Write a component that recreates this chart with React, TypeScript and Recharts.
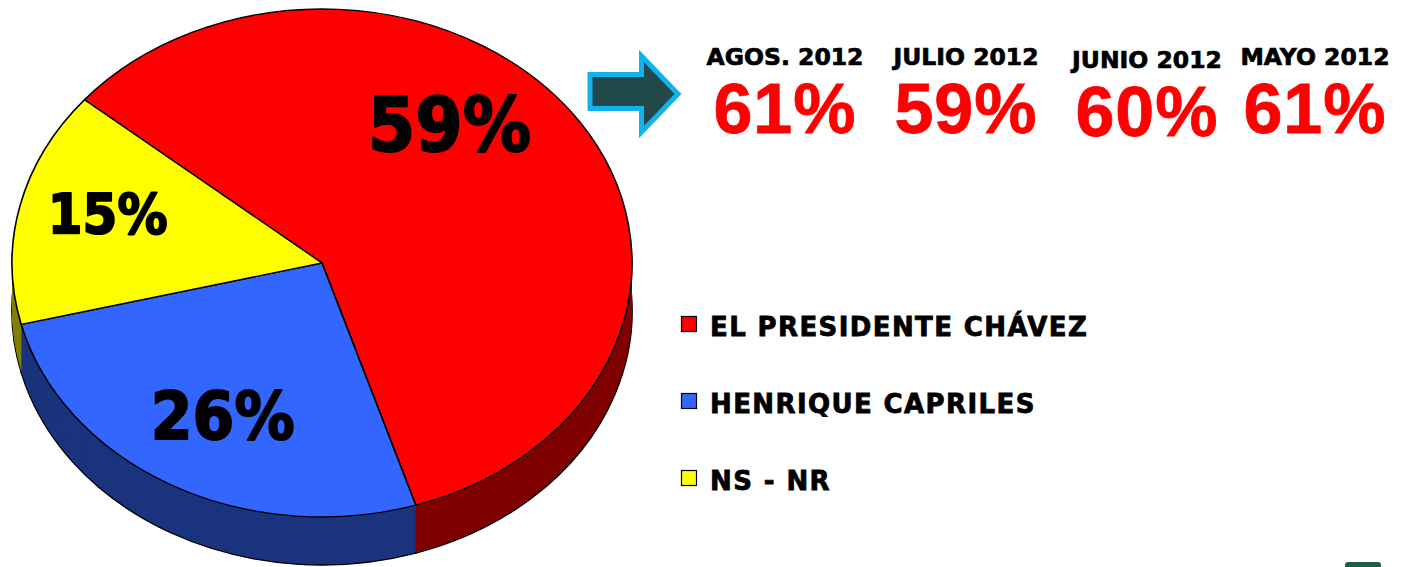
import { PieChart, Pie, Cell } from "recharts";

const SLICE_NAMES = ["EL PRESIDENTE CHÁVEZ", "HENRIQUE CAPRILES", "NS - NR"];
const SLICE_VALUES = [59, 26, 15];
const MONTHS = ["AGOS. 2012", "JULIO 2012", "JUNIO 2012", "MAYO 2012"];
const MONTH_VALUES = [61, 59, 60, 61];

const TOP_COLORS = ["#ff0000", "#3366ff", "#ffff00"];
const SIDE_COLORS = ["#800000", "#1b347e", "#808000"];

const pieData = SLICE_NAMES.map((name, i) => ({ name, value: SLICE_VALUES[i] }));

// the pie is drawn round and squashed with a css scale to look tilted
const S = 254 / 310;
const CX = 322;
const CY = 263 / S;
const R = 310;
const DEPTH = 48 / S;
const LAYERS = 40;
const layerOffsets = Array.from({ length: LAYERS }, (_, i) => (DEPTH * (LAYERS - i)) / LAYERS);

const LABEL_SIZE = [75, 66, 55];
const LABEL_NUDGE = [[-40, -47], [-1, 8], [-18, -13]];
const COL_X = [785, 966, 1147, 1315];
const COL_DY = [0, 0, 2.5, 0];
const LEGEND_Y = [316, 393, 470];

function renderLabel(p: any) {
  const { cx, cy, midAngle, index, value } = p;
  const a = (-midAngle * Math.PI) / 180;
  const r = R * 0.65;
  const x = cx + r * Math.cos(a) + LABEL_NUDGE[index][0];
  const yDisp = (cy + r * Math.sin(a)) * S + LABEL_NUDGE[index][1];
  const fs = LABEL_SIZE[index];
  return (
    <text
      key={`lbl-${index}`}
      transform={`translate(${x},${yDisp / S}) scale(0.91,${1 / S})`}
      x={0}
      y={(fs * 0.729) / 2}
      textAnchor="middle"
      fontSize={fs}
      fontFamily="DejaVu Sans"
      fontWeight="bold"
      fill="#000"
      stroke="#000"
      strokeWidth={2}
      strokeLinejoin="round"
    >
      {value}%
    </text>
  );
}

export default function App() {
  return (
    <div style={{ position: "absolute", left: 0, top: 0, width: 1407, height: 567, overflow: "hidden", background: "#fff" }}>
      <div style={{ position: "absolute", left: 0, top: 0, transform: `scaleY(${S})`, transformOrigin: "0 0" }}>
        <PieChart width={660} height={Math.ceil(567 / S) + 2} margin={{ top: 0, right: 0, bottom: 0, left: 0 }}>
          {layerOffsets.map((off, li) => (
            <Pie
              key={`side-${li}`}
              data={pieData}
              dataKey="value"
              cx={CX}
              cy={CY + off}
              outerRadius={R}
              startAngle={140}
              endAngle={-220}
              stroke={li === 0 ? "#000" : "none"}
              strokeWidth={li === 0 ? 1.6 : 0}
              isAnimationActive={false}
              label={false}
              labelLine={false}
            >
              {pieData.map((d, i) => (
                <Cell key={d.name} fill={SIDE_COLORS[i]} />
              ))}
            </Pie>
          ))}
          <Pie
            data={pieData}
            dataKey="value"
            cx={CX}
            cy={CY}
            outerRadius={R}
            startAngle={140}
            endAngle={-220}
            stroke="#000"
            strokeWidth={1.6}
            isAnimationActive={false}
            label={renderLabel}
            labelLine={false}
          >
            {pieData.map((d, i) => (
              <Cell key={d.name} fill={TOP_COLORS[i]} />
            ))}
          </Pie>
        </PieChart>
      </div>

      <svg width={1407} height={567} style={{ position: "absolute", left: 0, top: 0, pointerEvents: "none" }}>
        <path
          d="M590,74.5 L641.5,74.5 L641.5,56 L678,94 L641.5,132 L641.5,108.5 L590,108.5 Z"
          fill="#214949"
          stroke="#12b2ee"
          strokeWidth={5}
        />
        {MONTHS.map((m, i) => (
          <g key={m}>
            <text x={COL_X[i]} y={65 + COL_DY[i]} textAnchor="middle" fontFamily="DejaVu Sans" fontWeight="bold" fontSize={23.5} fill="#000" stroke="#000" strokeWidth={0.7}>
              {m}
            </text>
            <text x={COL_X[i]} y={133 + COL_DY[i]} textAnchor="middle" fontFamily="Liberation Sans" fontWeight="bold" fontSize={70} letterSpacing={1} fill="#ff0000" stroke="#ff0000" strokeWidth={0.8}>
              {MONTH_VALUES[i]}%
            </text>
          </g>
        ))}
        {SLICE_NAMES.map((n, i) => (
          <g key={n}>
            <rect x={681.5} y={LEGEND_Y[i] + 0.5} width={15} height={15} fill={TOP_COLORS[i]} stroke="#000" strokeWidth={1.2} />
            <text x={710} y={LEGEND_Y[i] + 20} fontFamily="DejaVu Sans" fontWeight="bold" fontSize={26} letterSpacing={1.4} fill="#000" stroke="#000" strokeWidth={0.8}>
              {n}
            </text>
          </g>
        ))}
        <rect x={1345} y={562} width={36} height={8} rx={3} fill="#1c5c48" />
      </svg>
    </div>
  );
}
